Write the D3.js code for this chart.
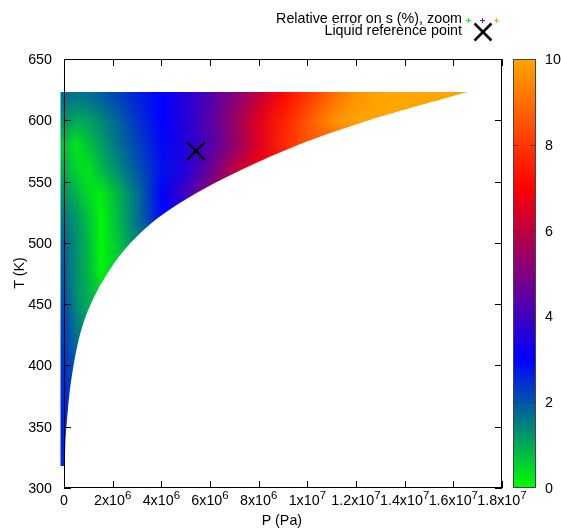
<!DOCTYPE html>
<html>
<head>
<meta charset="utf-8">
<script src="https://cdn.jsdelivr.net/npm/d3@7"></script>
<style>
  html, body { margin: 0; padding: 0; background: #fff; }
  #wrap { position: relative; width: 561px; height: 529px; }
  #field, #chart { position: absolute; left: 0; top: 0; }
  svg { display: block; font-family: "Liberation Sans", Arial, sans-serif; }
</style>
</head>
<body>
<div id="wrap">
<canvas id="field" width="561" height="529"></canvas>
<svg id="chart" width="561" height="529"></svg>
</div>
<script>
// ---------------- DATA ----------------
// Pressure grid (Pa) for the sampled error field
const pGrid = [0, 0.5e6, 1e6, 1.5e6, 2e6, 3e6, 4e6, 5e6, 6e6, 7e6, 8e6, 9e6, 10e6, 11e6, 12e6, 13e6, 14e6, 15e6, 16e6, 17e6];
// Temperature rows (K)
const tRows = [620, 600, 580, 560, 540, 520, 500, 480, 460, 440, 420, 400, 380, 360, 340, 320];
// Relative error on s (%) read per row along pGrid (rows stop just past saturation)
const err620 = [1.7, 1.6, 1.7, 1.9, 2.1, 2.6, 3.0, 3.6, 4.3, 5.1, 6.1, 7.2, 8.0, 9.0, 9.7, 10, 10, 10, 10, 10];
const err600 = [1.3, 1.0, 1.1, 1.4, 1.7, 2.4, 3.0, 3.6, 4.4, 5.4, 6.6, 7.6, 8.6, 9.6, 10, 10];
const err580 = [0.7, 0.3, 0.7, 1.1, 1.5, 2.2, 2.9, 3.5, 4.3, 5.3, 6.5, 7.7, 8.6];
const err560 = [1.0, 0.5, 0.3, 0.8, 1.2, 2.0, 2.8, 3.6, 4.7, 6.0, 7.0];
const err540 = [1.3, 0.9, 0.4, 0.2, 0.7, 1.7, 3.0, 4.1, 5.3];
const err520 = [1.6, 1.2, 0.7, 0.1, 0.6, 1.7, 2.9];
const err500 = [1.8, 1.3, 0.8, 0.1, 0.5, 1.5];
const err480 = [1.9, 1.3, 0.8, 0.1, 0.5];
const err460 = [2.0, 1.3, 0.9, 0.5];
const err440 = [2.2, 1.5, 1.0];
const err420 = [2.3, 1.7];
const err400 = [2.4, 2.0];
const err380 = [2.5, 2.2];
const err360 = [2.6, 2.4];
const err340 = [2.6, 2.5];
const err320 = [2.5, 2.5];
const errRows = [err620, err600, err580, err560, err540, err520, err500, err480, err460, err440, err420, err400, err380, err360, err340, err320];

// Saturation boundary of the sampled domain (T in K, P in Pa)
const satT = [318, 340, 360, 380, 400, 420, 440, 460, 480, 500, 520, 540, 560, 580, 600, 623];
const satP = [0, 0.02e6, 0.1e6, 0.2e6, 0.35e6, 0.55e6, 0.85e6, 1.3e6, 1.9e6, 2.7e6, 3.8e6, 5.35e6, 7.3e6, 9.6e6, 12.5e6, 16.55e6];

// Liquid reference point
const refP = [5.42e6];
const refT = [575];

// Axis ticks
const xTicks = [0, 2e6, 4e6, 6e6, 8e6, 1e7, 1.2e7, 1.4e7, 1.6e7, 1.8e7];
const xTickMant = ["0", "2x10", "4x10", "6x10", "8x10", "1x10", "1.2x10", "1.4x10", "1.6x10", "1.8x10"];
const xTickExp = ["", "6", "6", "6", "6", "7", "7", "7", "7", "7"];
const yTicks = [300, 350, 400, 450, 500, 550, 600, 650];
const cbTicks = [0, 2, 4, 6, 8, 10];

// Palette (gnuplot defined palette)
const palVals = [0, 3, 7, 10];
const palCols = ["#00ff00", "#0000ff", "#ff0000", "#ffa500"];

// ---------------- CHART ----------------
(function () {
const svg = d3.select("#chart");
const L = 64, R = 502, T0 = 59, B = 488;
const x = d3.scaleLinear().domain([0, 1.8e7]).range([L, R]);
const y = d3.scaleLinear().domain([300, 650]).range([B, T0]);
const color = d3.scaleLinear().domain(palVals).range(palCols).interpolate(d3.interpolateRgb).clamp(true);
const FONT = 14.3;

// Region outline: left edge (P = 0, with point padding) plus smooth saturation boundary
const pad = 3.5;
const satPts = satT.map((t, i) => [x(satP[i]) + 1, y(t)]);
const curve = d3.line().curve(d3.curveCatmullRom.alpha(0.5))(satPts);
const regionD = `M${x(0) - pad},${y(satT[satT.length - 1])}L${x(0) - pad},${y(satT[0])}` +
  curve.replace(/^M/, "L") + "Z";

// Field: sampled grid rendered as tiny images, upscaled with smoothing, clipped to the region
const cv = document.getElementById("field");
const ctx = cv.getContext("2d");
const rowVal = (j, i) => { const r = errRows[j]; return r[Math.min(i, r.length - 1)]; };
function makeImg(colIdx) {
  const off = document.createElement("canvas");
  off.width = colIdx.length; off.height = tRows.length;
  const octx = off.getContext("2d");
  const img = octx.createImageData(off.width, off.height);
  tRows.forEach((t, j) => colIdx.forEach((ci, k) => {
    const c = d3.rgb(color(rowVal(j, ci)));
    const o = (j * off.width + k) * 4;
    img.data[o] = c.r; img.data[o + 1] = c.g; img.data[o + 2] = c.b; img.data[o + 3] = 255;
  }));
  octx.putImageData(img, 0, 0);
  return off;
}
const idxA = d3.range(0, 5);            // 0 .. 2 MPa, step 0.5 MPa
const idxB = d3.range(4, pGrid.length); // 2 .. 17 MPa, step 1 MPa
const imgA = makeImg(idxA), imgB = makeImg(idxB);
const tStep = tRows[0] - tRows[1];
const yTop = y(tRows[0] + tStep / 2), yBot = y(tRows[tRows.length - 1] - tStep / 2);
ctx.save();
ctx.clip(new Path2D(regionD));
ctx.imageSmoothingEnabled = true;
const stepB = pGrid[5] - pGrid[4];
ctx.drawImage(imgB, x(pGrid[4] - stepB / 2), yTop, x(pGrid[pGrid.length - 1] + stepB / 2) - x(pGrid[4] - stepB / 2), yBot - yTop);
ctx.beginPath();
ctx.rect(0, 0, x(pGrid[4]), 529);
ctx.clip();
const stepA = pGrid[1] - pGrid[0];
ctx.drawImage(imgA, x(pGrid[0] - stepA / 2), yTop, x(pGrid[4] + stepA / 2) - x(pGrid[0] - stepA / 2), yBot - yTop);
ctx.restore();

const defs = svg.append("defs");

// Frame and ticks
const axisG = svg.append("g").attr("stroke", "#000").attr("stroke-width", 1).attr("fill", "none");
axisG.append("rect").attr("x", L + 0.5).attr("y", T0 + 0.5)
  .attr("width", R - L - 1).attr("height", B - T0 - 1);
const tl = 7;
xTicks.forEach(v => {
  const xx = Math.round(x(v)) + 0.5;
  axisG.append("line").attr("x1", xx).attr("x2", xx).attr("y1", B).attr("y2", B - tl);
  axisG.append("line").attr("x1", xx).attr("x2", xx).attr("y1", T0).attr("y2", T0 + tl);
});
yTicks.forEach(v => {
  const yy = Math.round(y(v)) + 0.5;
  axisG.append("line").attr("x1", L).attr("x2", L + tl).attr("y1", yy).attr("y2", yy);
  axisG.append("line").attr("x1", R).attr("x2", R - tl).attr("y1", yy).attr("y2", yy);
});

// Tick labels
const txt = svg.append("g").attr("font-size", FONT).attr("fill", "#000");
yTicks.forEach(v => {
  txt.append("text").attr("x", 52).attr("y", y(v) + 5).attr("text-anchor", "end").text(v);
});
xTicks.forEach((v, i) => {
  const t = txt.append("text").attr("x", x(v)).attr("y", 505).attr("text-anchor", "middle");
  t.append("tspan").text(xTickMant[i]);
  if (xTickExp[i]) t.append("tspan").attr("dy", -6).attr("font-size", FONT * 0.8).text(xTickExp[i]);
});
txt.append("text").attr("x", 282).attr("y", 525).attr("text-anchor", "middle").text("P (Pa)");
txt.append("text").attr("transform", "translate(24,273) rotate(-90)").attr("text-anchor", "middle").text("T (K)");

// Reference point
const cross = (g, cx, cyy, h, w) => {
  g.append("line").attr("x1", cx - h).attr("y1", cyy - h).attr("x2", cx + h).attr("y2", cyy + h)
    .attr("stroke", "#000").attr("stroke-width", w);
  g.append("line").attr("x1", cx - h).attr("y1", cyy + h).attr("x2", cx + h).attr("y2", cyy - h)
    .attr("stroke", "#000").attr("stroke-width", w);
};
const refG = svg.append("g");
refP.forEach((p, i) => cross(refG, x(p), y(refT[i]), 9, 2.2));

// Colorbar
const cbX = 513, cbW = 23;
const cbY = d3.scaleLinear().domain([0, 10]).range([B, T0]);
const grad = defs.append("linearGradient").attr("id", "cbgrad")
  .attr("x1", 0).attr("y1", 1).attr("x2", 0).attr("y2", 0);
d3.range(0, 10.01, 0.5).forEach(v => {
  grad.append("stop").attr("offset", v / 10).attr("stop-color", color(v));
});
svg.append("rect").attr("x", cbX).attr("y", T0).attr("width", cbW).attr("height", B - T0)
  .attr("fill", "url(#cbgrad)");
svg.append("rect").attr("x", cbX + 0.5).attr("y", T0 + 0.5).attr("width", cbW - 1).attr("height", B - T0 - 1)
  .attr("fill", "none").attr("stroke", "#444").attr("stroke-width", 1);
cbTicks.forEach(v => {
  const yy = Math.round(cbY(v)) + 0.5;
  if (v > 0 && v < 10) {
    svg.append("line").attr("x1", cbX).attr("x2", cbX + 5).attr("y1", yy).attr("y2", yy)
      .attr("stroke", "#333").attr("stroke-dasharray", "2,1");
    svg.append("line").attr("x1", cbX + cbW - 5).attr("x2", cbX + cbW).attr("y1", yy).attr("y2", yy)
      .attr("stroke", "#333").attr("stroke-dasharray", "2,1");
  }
  txt.append("text").attr("x", 545).attr("y", cbY(v) + 5).text(v);
});

// Legend
const lg = svg.append("g").attr("font-size", FONT);
lg.append("text").attr("x", 462).attr("y", 22.5).attr("text-anchor", "end").text("Relative error on s (%), zoom");
lg.append("text").attr("x", 462).attr("y", 34.5).attr("text-anchor", "end").text("Liquid reference point");
const legendPlus = [[468.5, palCols[0]], [482.5, "#a000a0"], [496.5, palCols[3]]];
legendPlus.forEach(([px, c]) => {
  lg.append("path").attr("d", `M${px - 2.5},20.5H${px + 2.5}M${px},18V23`)
    .attr("stroke", c).attr("stroke-width", 1).attr("fill", "none");
});
cross(lg, 483, 32, 8.5, 2.5);
})();
</script>
</body>
</html>
